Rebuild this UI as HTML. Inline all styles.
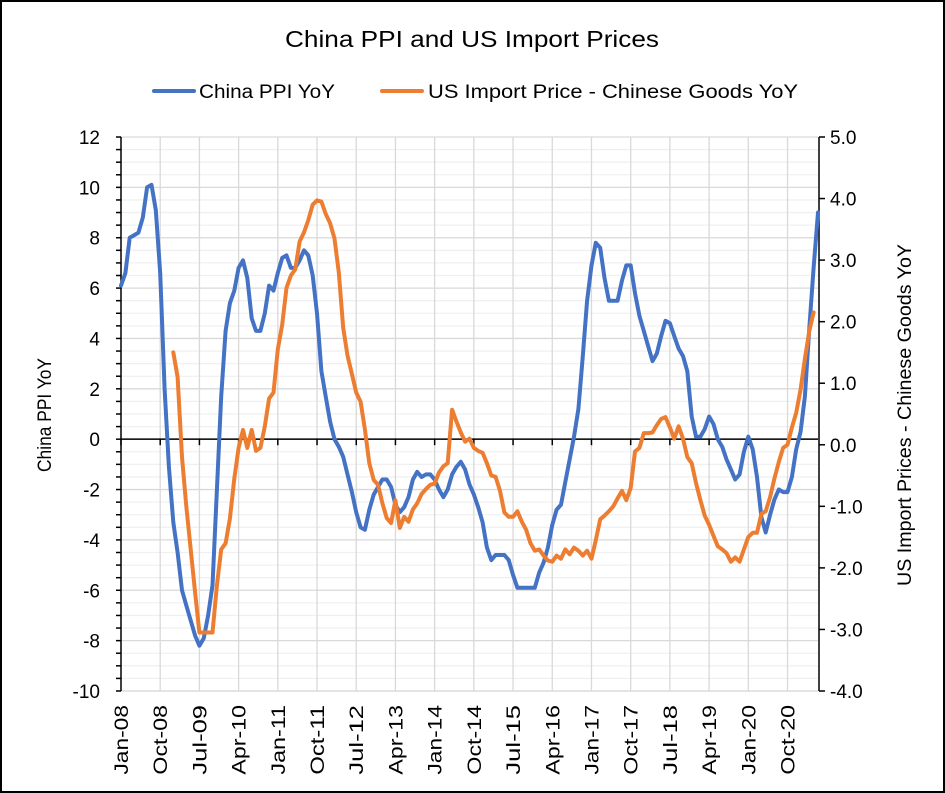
<!DOCTYPE html>
<html><head><meta charset="utf-8"><style>
html,body{margin:0;padding:0;background:#fff;}
svg{display:block;font-family:"Liberation Sans",sans-serif;}
</style></head><body>
<svg id="chart" width="945" height="793" viewBox="0 0 945 793">
<rect x="1" y="1" width="943" height="791" fill="#fff" stroke="#000" stroke-width="2"/>
<text x="472" y="47" text-anchor="middle" font-size="23" textLength="374" lengthAdjust="spacingAndGlyphs" fill="#000">China PPI and US Import Prices</text>
<g>
<g>
<line x1="154" y1="91" x2="194" y2="91" stroke="#4472C4" stroke-width="4" stroke-linecap="round"/>
<text x="199" y="98" font-size="19" textLength="136" lengthAdjust="spacingAndGlyphs">China PPI YoY</text>
</g>
<g>
<line x1="382" y1="91" x2="422" y2="91" stroke="#ED7D31" stroke-width="4" stroke-linecap="round"/>
<text x="428" y="98" font-size="19" textLength="370" lengthAdjust="spacingAndGlyphs">US Import Price - Chinese Goods YoY</text>
</g>
</g>
<g id="grid"></g>
<g id="axes"></g>
<g id="series"></g>
<text transform="translate(51,415) rotate(-90)" text-anchor="middle" font-size="19" textLength="114" lengthAdjust="spacingAndGlyphs">China PPI YoY</text>
<text transform="translate(911,415) rotate(-90)" text-anchor="middle" font-size="19" textLength="342" lengthAdjust="spacingAndGlyphs">US  Import Prices - Chinese Goods YoY</text>
</svg>
<script>
const xLabels = ["Jan-08","Oct-08","Jul-09","Apr-10","Jan-11","Oct-11","Jul-12","Apr-13","Jan-14","Oct-14","Jul-15","Apr-16","Jan-17","Oct-17","Jul-18","Apr-19","Jan-20","Oct-20"];
const leftTicks = [12,10,8,6,4,2,0,-2,-4,-6,-8,-10];
const rightTicks = ["5.0","4.0","3.0","2.0","1.0","0.0","-1.0","-2.0","-3.0","-4.0"];
const chinaPPI = [6.1,6.6,8.0,8.1,8.2,8.8,10.0,10.1,9.1,6.6,2.0,-1.1,
-3.3,-4.5,-6.0,-6.6,-7.2,-7.8,-8.2,-7.9,-7.0,-5.8,-2.1,1.7,
4.3,5.4,5.9,6.8,7.1,6.4,4.8,4.3,4.3,5.0,6.1,5.9,
6.6,7.2,7.3,6.8,6.8,7.1,7.5,7.3,6.5,5.0,2.7,1.7,
0.7,0.0,-0.3,-0.7,-1.4,-2.1,-2.9,-3.5,-3.6,-2.8,-2.2,-1.9,
-1.6,-1.6,-1.9,-2.6,-2.9,-2.7,-2.3,-1.6,-1.3,-1.5,-1.4,-1.4,
-1.6,-2.0,-2.3,-2.0,-1.4,-1.1,-0.9,-1.2,-1.8,-2.2,-2.7,-3.3,
-4.3,-4.8,-4.6,-4.6,-4.6,-4.8,-5.4,-5.9,-5.9,-5.9,-5.9,-5.9,
-5.3,-4.9,-4.3,-3.4,-2.8,-2.6,-1.7,-0.8,0.1,1.2,3.3,5.5,
6.9,7.8,7.6,6.4,5.5,5.5,5.5,6.3,6.9,6.9,5.8,4.9,
4.3,3.7,3.1,3.4,4.1,4.7,4.6,4.1,3.6,3.3,2.7,0.9,
0.1,0.1,0.4,0.9,0.6,0.0,-0.3,-0.8,-1.2,-1.6,-1.4,-0.5,
0.1,-0.4,-1.5,-3.1,-3.7,-3.0,-2.4,-2.0,-2.1,-2.1,-1.5,-0.4,
0.3,1.7,4.4,6.8,9.0];
const usImportStart = 12;
const usImport = [1.5,1.1,-0.2,-1.0,-1.7,-2.4,-3.05,-3.05,-3.05,-3.05,-2.3,-1.7,
-1.6,-1.2,-0.55,-0.05,0.24,-0.05,0.24,-0.1,-0.05,0.3,0.75,0.85,
1.55,1.95,2.55,2.75,2.85,3.3,3.45,3.65,3.9,3.97,3.95,3.75,
3.6,3.35,2.8,1.9,1.45,1.15,0.85,0.7,0.25,-0.3,-0.57,-0.65,
-0.95,-1.19,-1.27,-0.9,-1.35,-1.17,-1.25,-1.05,-0.95,-0.8,-0.72,-0.65,
-0.63,-0.45,-0.35,-0.3,0.57,0.38,0.2,0.05,0.1,-0.05,-0.1,-0.13,
-0.3,-0.5,-0.52,-0.75,-1.1,-1.17,-1.17,-1.08,-1.25,-1.38,-1.6,-1.72,
-1.7,-1.8,-1.88,-1.9,-1.8,-1.85,-1.7,-1.78,-1.67,-1.72,-1.8,-1.72,
-1.85,-1.55,-1.21,-1.15,-1.08,-1.0,-0.87,-0.75,-0.9,-0.7,-0.11,-0.05,
0.19,0.19,0.2,0.32,0.42,0.45,0.28,0.1,0.3,0.1,-0.2,-0.3,
-0.62,-0.9,-1.15,-1.3,-1.48,-1.65,-1.7,-1.76,-1.9,-1.83,-1.9,-1.7,
-1.5,-1.43,-1.43,-1.12,-1.08,-0.85,-0.55,-0.28,-0.05,0.0,0.28,0.52,
0.9,1.4,1.85,2.15];

const NS = "http://www.w3.org/2000/svg";
const L = 121, R = 818, T = 137, B = 691;
const nCat = chinaPPI.length;
const xScale = i => L + i * (R - L) / (nCat - 1);
const yL = v => T + (12 - v) * (B - T) / 22;
const yR = v => T + (5 - v) * (B - T) / 9;
function mk(tag, attrs, parent) {
  const e = document.createElementNS(NS, tag);
  for (const k in attrs) e.setAttribute(k, attrs[k]);
  parent.appendChild(e);
  return e;
}
const grid = document.getElementById('grid');
const axes = document.getElementById('axes');
const series = document.getElementById('series');

for (let v = -10; v <= 12; v += 0.5) {
  if (v % 2 === 0) continue;
  const g = mk('line', {x1: L, x2: R, y1: yL(v), y2: yL(v), stroke: '#f0f0f0', 'stroke-width': 1.3}, grid);
  
  
}
leftTicks.forEach(v => {
  const g = mk('line', {x1: L, x2: R, y1: yL(v), y2: yL(v), stroke: '#d9d9d9', 'stroke-width': 1.3}, grid);
  
  
});
xLabels.forEach((lab, k) => {
  const x = xScale(k * 9);
  if (k > 0) {
    const g = mk('line', {x1: x, x2: x, y1: T, y2: B, stroke: '#d9d9d9', 'stroke-width': 1.3}, grid);
    
    
  }
  const tk = mk('line', {x1: x, x2: x, y1: yL(0), y2: yL(0) + 6, stroke: '#000', 'stroke-width': 1.5}, axes);
  
  
  const t = mk('text', {transform: `translate(${x + 7},705) rotate(-90)`, 'text-anchor': 'end', 'font-size': 19, textLength: lab.length * 11.6, lengthAdjust: 'spacingAndGlyphs'}, axes);
  t.textContent = lab;
  
  
});
const bl = mk('line', {x1: L, x2: R, y1: B, y2: B, stroke: '#d9d9d9', 'stroke-width': 1.3}, grid);



const la = mk('line', {x1: L, x2: L, y1: T, y2: B, stroke: '#000', 'stroke-width': 1.5}, axes);


for (let v = -10; v <= 12; v += 0.5) {
  const tk = mk('line', {x1: L - 5, x2: L, y1: yL(v), y2: yL(v), stroke: '#000', 'stroke-width': 1.5}, axes);
  
  
}
leftTicks.forEach(v => {
  const t = mk('text', {x: 100, y: yL(v) + 7, 'text-anchor': 'end', 'font-size': 19}, axes);
  t.textContent = String(v);
  
  
});
const ra = mk('line', {x1: R + 1, x2: R + 1, y1: T, y2: B, stroke: '#000', 'stroke-width': 1.5}, axes);


rightTicks.forEach(s => {
  const v = parseFloat(s);
  const tk = mk('line', {x1: R + 1, x2: R + 7, y1: yR(v), y2: yR(v), stroke: '#000', 'stroke-width': 1.5}, axes);
  
  
  const t = mk('text', {x: 830, y: yR(v) + 7, 'font-size': 19}, axes);
  t.textContent = s;
  
  
});
const z = mk('line', {x1: L, x2: R, y1: yL(0), y2: yL(0), stroke: '#000', 'stroke-width': 1.5}, axes);



const ppiPts = chinaPPI.map((v, i) => `${xScale(i).toFixed(1)},${yL(v).toFixed(1)}`).join(' ');
const p1 = mk('polyline', {points: ppiPts, fill: 'none', stroke: '#4472C4', 'stroke-width': 4, 'stroke-linejoin': 'round', 'stroke-linecap': 'round'}, series);


const usPts = usImport.map((v, i) => `${xScale(i + usImportStart).toFixed(1)},${yR(v).toFixed(1)}`).join(' ');
const p2 = mk('polyline', {points: usPts, fill: 'none', stroke: '#ED7D31', 'stroke-width': 4, 'stroke-linejoin': 'round', 'stroke-linecap': 'round'}, series);


</script>
</body></html>
